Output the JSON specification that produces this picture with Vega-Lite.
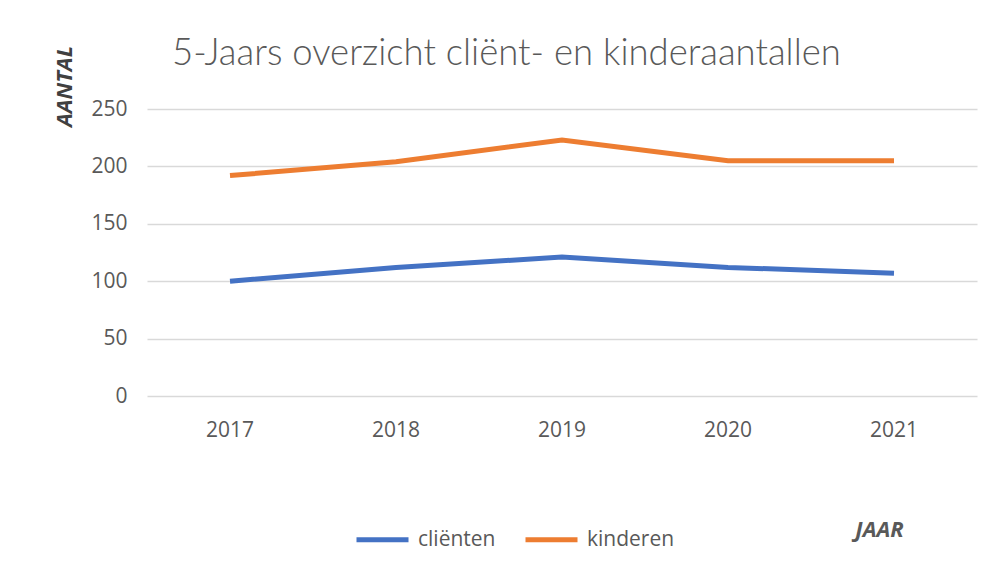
{
  "$schema": "https://vega.github.io/schema/vega-lite/v6.json",
  "autosize": {"type": "none"},
  "padding": {"left": 147, "top": 109, "right": 17, "bottom": 170},
  "width": 830,
  "height": 287,
  "background": "white",
  "title": {
    "text": "5-Jaars overzicht cliënt- en kinderaantallen",
    "anchor": "start",
    "frame": "group",
    "dx": 25,
    "offset": -56,
    "baseline": "alphabetic",
    "font": "Lato",
    "fontSize": 36.5,
    "fontWeight": 300,
    "color": "#595959"
  },
  "data": {
    "values": [
      {"jaar": "2017", "reeks": "cliënten", "aantal": 100},
      {"jaar": "2018", "reeks": "cliënten", "aantal": 112},
      {"jaar": "2019", "reeks": "cliënten", "aantal": 121},
      {"jaar": "2020", "reeks": "cliënten", "aantal": 112},
      {"jaar": "2021", "reeks": "cliënten", "aantal": 107},
      {"jaar": "2017", "reeks": "kinderen", "aantal": 192},
      {"jaar": "2018", "reeks": "kinderen", "aantal": 204},
      {"jaar": "2019", "reeks": "kinderen", "aantal": 223},
      {"jaar": "2020", "reeks": "kinderen", "aantal": 205},
      {"jaar": "2021", "reeks": "kinderen", "aantal": 205}
    ]
  },
  "mark": {"type": "line", "strokeWidth": 5, "strokeCap": "butt"},
  "encoding": {
    "x": {
      "field": "jaar",
      "type": "ordinal",
      "scale": {"type": "band", "paddingInner": 0, "paddingOuter": 0},
      "axis": {
        "title": "JAAR",
        "titleX": 732,
        "titleY": 133,
        "titleAlign": "center",
        "titleBaseline": "middle",
        "titleFont": "Open Sans",
        "titleFontSize": 22,
        "titleFontStyle": "italic",
        "titleFontWeight": "bold",
        "titleColor": "#595959",
        "labelAngle": 0,
        "labelFont": "Open Sans",
        "labelFontSize": 21,
        "labelColor": "#595959",
        "labelPadding": 23,
        "ticks": false,
        "domain": false,
        "grid": false
      }
    },
    "y": {
      "field": "aantal",
      "type": "quantitative",
      "scale": {"domain": [0, 250], "nice": false},
      "axis": {
        "title": "AANTAL",
        "titleX": -83,
        "titleY": -23,
        "titleAngle": 270,
        "titleAlign": "center",
        "titleBaseline": "middle",
        "titleFont": "Open Sans",
        "titleFontSize": 22,
        "titleFontStyle": "italic",
        "titleFontWeight": "bold",
        "titleColor": "#404040",
        "values": [0, 50, 100, 150, 200, 250],
        "labelFont": "Open Sans",
        "labelFontSize": 21,
        "labelColor": "#595959",
        "labelPadding": 20,
        "ticks": false,
        "domain": false,
        "grid": true,
        "gridColor": "#d9d9d9",
        "gridWidth": 1.3
      }
    },
    "color": {
      "field": "reeks",
      "type": "nominal",
      "scale": {"domain": ["cliënten", "kinderen"], "range": ["#4472C4", "#ED7D31"]},
      "legend": {
        "title": null,
        "orient": "none",
        "direction": "horizontal",
        "legendX": 207,
        "legendY": 402,
        "symbolType": "stroke",
        "symbolSize": 2704,
        "symbolStrokeWidth": 5,
        "labelFont": "Open Sans",
        "labelFontSize": 21,
        "labelColor": "#595959",
        "labelOffset": 7,
        "columnPadding": 19
      }
    }
  },
  "config": {"view": {"stroke": null}}
}
